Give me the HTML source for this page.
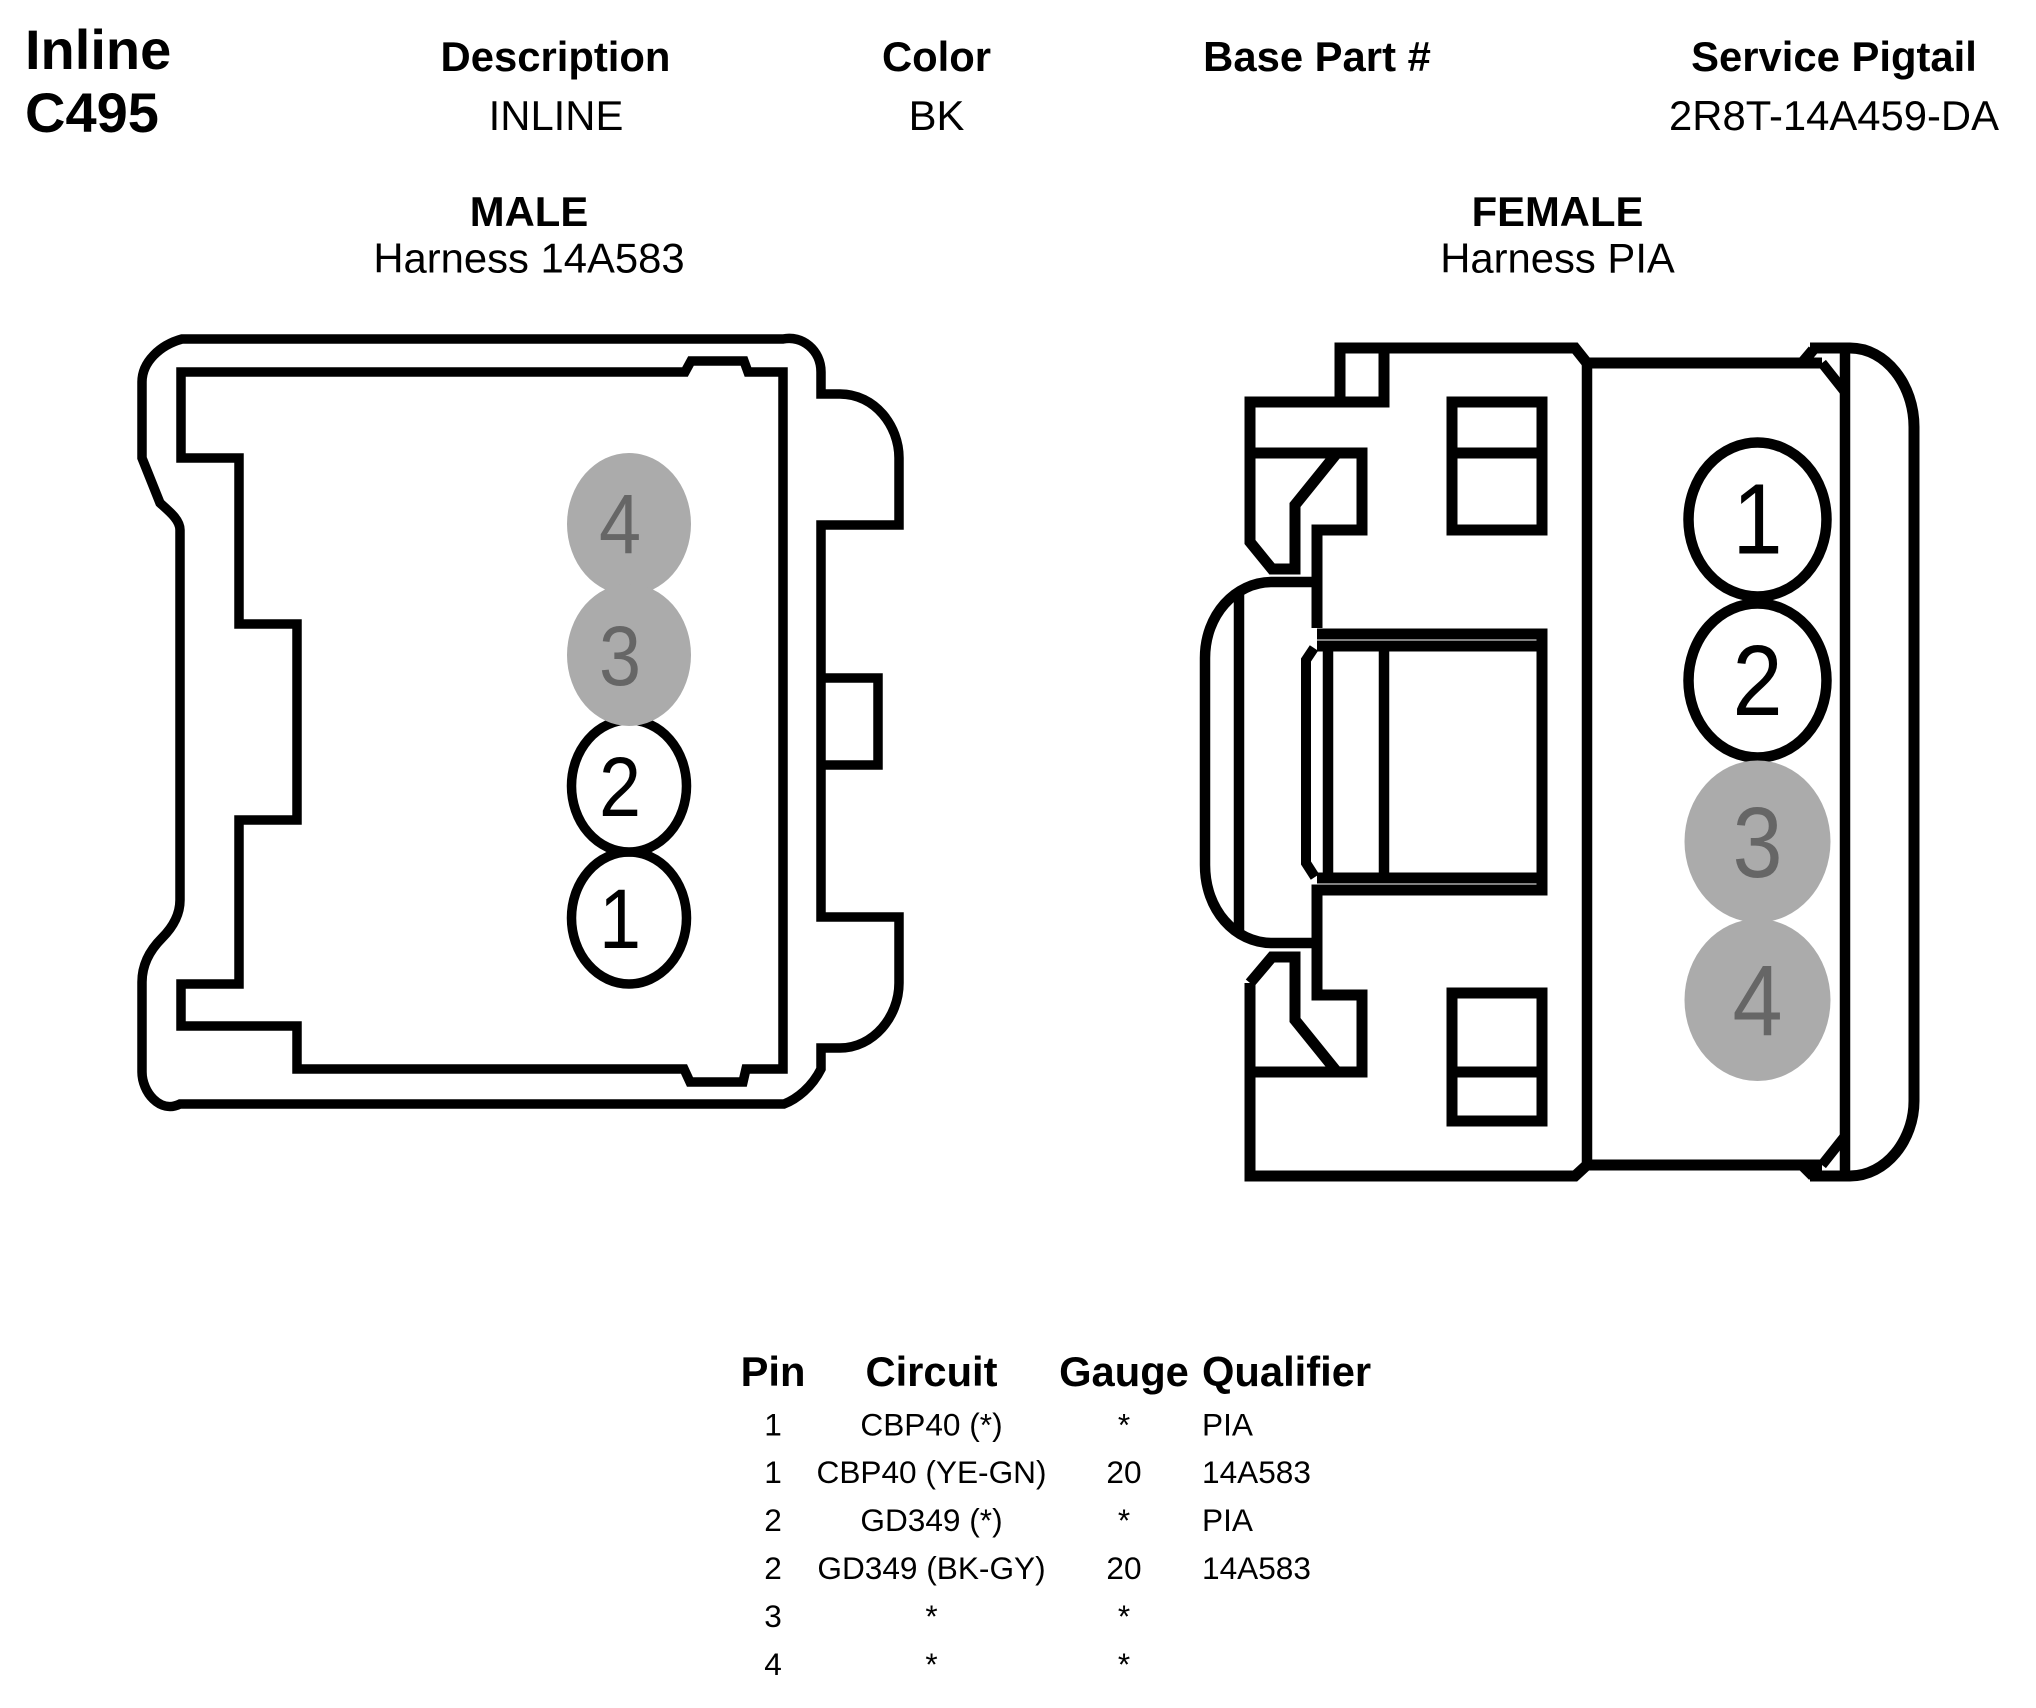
<!DOCTYPE html>
<html><head><meta charset="utf-8"><style>
html,body{margin:0;padding:0;background:#fff}
svg{display:block}
text{font-family:"Liberation Sans",Arial,sans-serif;fill:#000}
.b{font-weight:bold}
.s{fill:none;stroke:#000;stroke-linejoin:miter;stroke-linecap:butt}
.m{text-anchor:middle}
.g{fill:#666}
</style></head><body>
<svg width="2036" height="1708" viewBox="0 0 2036 1708" xmlns="http://www.w3.org/2000/svg">
<rect width="2036" height="1708" fill="#fff"/>
<text class="b" x="25" y="69" font-size="56">Inline</text>
<text class="b" x="25" y="132" font-size="56">C495</text>
<g font-size="41.8">
<text class="b m" x="555.5" y="71">Description</text>
<text class="m" x="556" y="130">INLINE</text>
<text class="b m" x="936.5" y="71">Color</text>
<text class="m" x="936.5" y="130">BK</text>
<text class="b m" x="1317" y="71">Base Part #</text>
<text class="b m" x="1834" y="71">Service Pigtail</text>
<text class="m" x="1834" y="130">2R8T-14A459-DA</text>
<text class="b m" x="529" y="226">MALE</text>
<text class="m" x="529" y="272.5">Harness 14A583</text>
<text class="b m" x="1557.5" y="226">FEMALE</text>
<text class="m" x="1557.5" y="272.5">Harness PIA</text>
</g>

<g class="s" stroke-width="9.5">
<path d="M182,339 H783 C802,335 821,350 821,372 V394 H840 C875,394 899,426 899,458 V525 H821 V917 H899 V983 C899,1017 873,1048 840,1048 H821 V1069 C812,1087 797,1099 784,1104 H180 C160,1114 142,1092 142,1072 V982 C142,965 150,950 162,938 C172,928 180,915 180,900 V530 C180,520 170,512 160,503 L142,458 V382 C142,362 160,345 182,339 Z"/>
<path d="M181,372 H685 L691,361 H744 L748,372 H783 V1069 H746 L743,1082 H690 L684,1069 H297 V1026 H181 V984 H239 V820 H297 V624 H239 V458 H181 Z"/>
<path d="M821,678 H878 V765 H821"/>
</g>
<g fill="#fff" stroke="#000" stroke-width="9.5">
<ellipse cx="629" cy="918" rx="57.5" ry="66"/>
<ellipse cx="629" cy="786" rx="57.5" ry="66"/>
</g>
<g fill="#ababab">
<ellipse cx="629" cy="524" rx="62" ry="71"/>
<ellipse cx="629" cy="655" rx="62" ry="71"/>
</g>
<g font-size="84" class="m">
<text transform="translate(620,553) scale(.9,1)" class="g">4</text>
<text transform="translate(620,685) scale(.9,1)" class="g">3</text>
<text transform="translate(620,816) scale(.9,1)">2</text>
<text transform="translate(620,948) scale(.9,1)">1</text>
</g>

<g class="s" stroke-width="11">
<path d="M1340,402 V348 H1575 L1587,363 H1822"/>
<path d="M1802,363 L1813,350"/>
<path d="M1384,348 V402 H1250 V542 L1272,569 H1295 V505 L1337,453"/>
<path d="M1250,453 H1362 V530 H1317 V628"/>
<path d="M1317,634 H1542 V890 H1317 V995 H1362 V1072 H1250"/>
<path d="M1317,646 H1542 M1317,878 H1542"/>
<path d="M1250,983 V1176 H1575 L1587,1165 H1822"/>
<path d="M1802,1165 L1813,1176"/>
<path d="M1250,983 L1272,957 H1295 V1020 L1337,1072"/>
<path d="M1810,348 H1850 C1886,348 1914,385 1914,427 V1101 C1914,1140 1886,1176 1850,1176 H1810"/>
<path d="M1587,363 V1165" stroke-width="10.5"/>
<path d="M1845,350 V1174" stroke-width="10.5"/>
<path d="M1822,363 L1845,392 M1822,1165 L1845,1136" stroke-width="10"/>
<path d="M1272,582 H1317 M1272,582 C1235,582 1205,615 1205,658 V865 C1205,910 1235,943 1272,943 H1317" stroke-width="10.5"/>
<path d="M1239,590 V932" stroke-width="10.5"/>
<path d="M1314,648 L1306,660 V863 L1315,877" stroke-width="10"/>
<path d="M1328,646 V878 M1384,646 V878" stroke-width="10.5"/>
<path d="M1452,402 H1542 V530 H1452 Z M1452,453 H1542"/>
<path d="M1452,993 H1542 V1121 H1452 Z M1452,1072 H1542"/>
</g>
<g fill="#fff" stroke="#000" stroke-width="10.5">
<ellipse cx="1757.5" cy="519.5" rx="69" ry="77"/>
<ellipse cx="1757.5" cy="680.5" rx="69" ry="77"/>
</g>
<g fill="#ababab">
<ellipse cx="1757.5" cy="841.5" rx="73" ry="81"/>
<ellipse cx="1757.5" cy="1000" rx="73" ry="81"/>
</g>
<g font-size="100" class="m">
<text transform="translate(1757.5,553.5) scale(.9,1)">1</text>
<text transform="translate(1757.5,715) scale(.9,1)">2</text>
<text transform="translate(1757.5,877) scale(.9,1)" class="g">3</text>
<text transform="translate(1757.5,1035) scale(.9,1)" class="g">4</text>
</g>

<g font-size="41.7" class="b">
<text class="m" x="773" y="1386">Pin</text>
<text class="m" x="931.5" y="1386">Circuit</text>
<text class="m" x="1124" y="1386">Gauge</text>
<text x="1202" y="1386">Qualifier</text>
</g>
<g font-size="31.6">
<text class="m" x="773" y="1435.5">1</text><text class="m" x="931.5" y="1435.5">CBP40 (*)</text><text class="m" x="1124" y="1435.5">*</text><text x="1202" y="1435.5">PIA</text>
<text class="m" x="773" y="1483">1</text><text class="m" x="931.5" y="1483">CBP40 (YE-GN)</text><text class="m" x="1124" y="1483">20</text><text x="1202" y="1483">14A583</text>
<text class="m" x="773" y="1531">2</text><text class="m" x="931.5" y="1531">GD349 (*)</text><text class="m" x="1124" y="1531">*</text><text x="1202" y="1531">PIA</text>
<text class="m" x="773" y="1579">2</text><text class="m" x="931.5" y="1579">GD349 (BK-GY)</text><text class="m" x="1124" y="1579">20</text><text x="1202" y="1579">14A583</text>
<text class="m" x="773" y="1627">3</text><text class="m" x="931.5" y="1627">*</text><text class="m" x="1124" y="1627">*</text>
<text class="m" x="773" y="1675">4</text><text class="m" x="931.5" y="1675">*</text><text class="m" x="1124" y="1675">*</text>
</g>
</svg>
</body></html>
